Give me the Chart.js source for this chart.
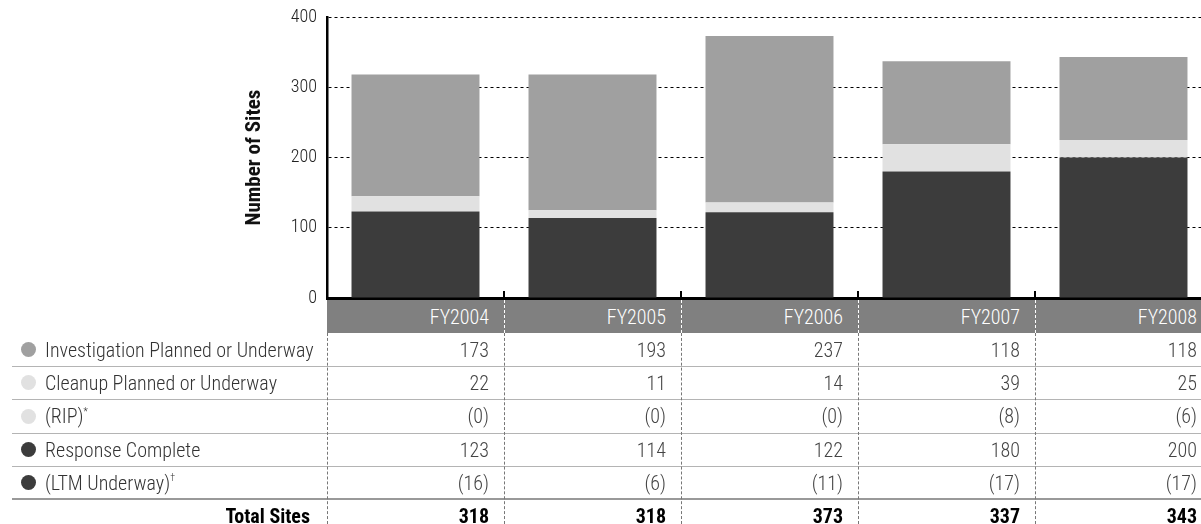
<!DOCTYPE html>
<html lang="en">
<head>
<meta charset="UTF-8">
<title>Number of Sites</title>
<script src="https://cdn.jsdelivr.net/npm/chart.js"></script>
<style>
  body { margin: 0; overflow: hidden; background: #fff; font-family: "Roboto Condensed", "Liberation Sans Narrow", sans-serif; }
  #wrap { position: relative; width: 1212px; height: 524px; }
  #sitesChart { position: absolute; left: 0; top: 0; }
  .cell { position: absolute; box-sizing: border-box; font-size: 20px; font-weight: 300; white-space: nowrap; display: flex; align-items: center; color: #444; }
  .num { justify-content: flex-end; padding-right: 15px; }
  .head { background: #808080; color: #fff; }
  .dot { display: inline-block; width: 15px; height: 15px; border-radius: 50%; margin: 0 9px 0 9px; }
  .hline { position: absolute; height: 0; border-top: 1px solid #b4b4b4; }
  .vline { position: absolute; width: 0; border-left: 1px dashed #777; }
  sup { font-size: 10px; position: relative; top: -5px; vertical-align: baseline; }
</style>
</head>
<body>
<div id="wrap">
  <canvas id="sitesChart" width="1212" height="524"></canvas>
</div>
<script>
const years = ['FY2004', 'FY2005', 'FY2006', 'FY2007', 'FY2008'];
const investigation = [173, 193, 237, 118, 118];
const cleanup = [22, 11, 14, 39, 25];
const rip = [0, 0, 0, 8, 6];
const response = [123, 114, 122, 180, 200];
const ltm = [16, 6, 11, 17, 17];
const yTicks = [0, 100, 200, 300, 400];

const DARK = '#3c3c3c';
const MID = '#a0a0a0';
const LIGHT = '#e1e1e1';

Chart.defaults.font.family = '"Roboto Condensed", "Liberation Sans Narrow", sans-serif';

// little upward ticks on the x axis between the fiscal years
const yearTicks = {
  id: 'yearTicks',
  afterDatasetsDraw(chart) {
    const { ctx, scales: { x }, chartArea } = chart;
    ctx.save();
    ctx.strokeStyle = '#000';
    ctx.lineWidth = 2;
    for (let i = 1; i < years.length; i++) {
      const px = Math.round((x.getPixelForValue(i - 1) + x.getPixelForValue(i)) / 2);
      ctx.beginPath();
      ctx.moveTo(px, chartArea.bottom - 7);
      ctx.lineTo(px, chartArea.bottom);
      ctx.stroke();
    }
    ctx.restore();
  }
};

const chart = new Chart(document.getElementById('sitesChart'), {
  type: 'bar',
  data: {
    labels: years,
    datasets: [
      { label: 'Response Complete', data: response, backgroundColor: DARK },
      { label: 'Cleanup Planned or Underway', data: cleanup, backgroundColor: LIGHT },
      { label: 'Investigation Planned or Underway', data: investigation, backgroundColor: MID }
    ]
  },
  options: {
    responsive: false,
    animation: false,
    layout: { padding: { left: 240, top: 17, right: 0, bottom: 218 } },
    datasets: { bar: { barPercentage: 0.723, categoryPercentage: 1 } },
    plugins: { legend: { display: false }, tooltip: { enabled: false } },
    scales: {
      x: {
        stacked: true,
        ticks: { display: false },
        grid: { display: false },
        border: { color: '#000', width: 3 }
      },
      y: {
        stacked: true,
        min: yTicks[0],
        max: yTicks[yTicks.length - 1],
        afterBuildTicks: s => { s.ticks = yTicks.map(v => ({ value: v })); },
        afterFit: s => { s.width = 87; s.paddingTop = 0; s.paddingBottom = 0; },
        ticks: { color: '#222', font: { size: 18, weight: 300 }, padding: 10 },
        grid: { color: '#000', lineWidth: 1, drawTicks: false },
        border: { color: '#000', width: 2.5, dash: [3, 3] },
        title: { display: true, text: 'Number of Sites', color: '#111', font: { size: 21, weight: 'bold' }, padding: { top: 2, bottom: 0 } }
      }
    }
  },
  plugins: [yearTicks]
});

// data table under the chart, columns aligned to the x scale
const wrap = document.getElementById('wrap');
const xs = chart.scales.x;
const step = xs.getPixelForValue(1) - xs.getPixelForValue(0);
const colLeft = i => xs.getPixelForValue(i) - step / 2;
const tableLeft = 12;
const rowTops = [300, 333, 366, 399, 433, 466, 499, 532];

function add(cls, style, html) {
  const d = document.createElement('div');
  d.className = cls;
  Object.assign(d.style, style);
  if (html !== undefined) d.innerHTML = html;
  wrap.appendChild(d);
  return d;
}

const paren = v => '(' + v + ')';
const totals = years.map((_, i) => response[i] + cleanup[i] + investigation[i]);
const rows = [
  { label: 'Investigation Planned or Underway', dot: MID, values: investigation.map(String) },
  { label: 'Cleanup Planned or Underway', dot: LIGHT, values: cleanup.map(String) },
  { label: '(RIP)<sup>*</sup>', dot: LIGHT, values: rip.map(paren) },
  { label: 'Response Complete', dot: DARK, values: response.map(String) },
  { label: '(LTM Underway)<sup>†</sup>', dot: DARK, values: ltm.map(paren) },
  { label: 'Total Sites', values: totals.map(String), bold: true }
];

// header band with year names
years.forEach((y, i) => {
  add('cell num head', { left: colLeft(i) + 'px', top: rowTops[0] + 'px', width: step + 'px', height: (rowTops[1] - rowTops[0]) + 'px' }, y);
});

rows.forEach((r, k) => {
  const top = rowTops[k + 1];
  const h = rowTops[k + 2] - top;
  const weight = r.bold ? 'bold' : '300';
  const color = r.bold ? '#000' : '#444';
  if (r.bold) {
    add('cell num', { left: tableLeft + 'px', top: top + 'px', width: (colLeft(0) - tableLeft) + 'px', height: h + 'px', fontWeight: weight, color: color, paddingRight: '17px' }, r.label);
  } else {
    add('cell', { left: tableLeft + 'px', top: top + 'px', width: (colLeft(0) - tableLeft) + 'px', height: h + 'px', color: '#333' },
      '<span class="dot" style="background:' + r.dot + '"></span>' + r.label);
  }
  r.values.forEach((v, i) => {
    add('cell num', { left: colLeft(i) + 'px', top: top + 'px', width: step + 'px', height: h + 'px', fontWeight: weight, color: color }, v);
  });
  // row separator
  if (k < rows.length - 1) {
    const last = k === rows.length - 2;
    add('hline', { left: tableLeft + 'px', top: (rowTops[k + 2] - (last ? 1 : 0)) + 'px', width: (1212 - tableLeft) + 'px', borderTopWidth: last ? '2px' : '1px', borderTopColor: last ? '#999' : '#b4b4b4' });
  }
});

// dashed column dividers
years.forEach((_, i) => {
  const x = Math.round(colLeft(i));
  add('vline', { left: x + 'px', top: rowTops[1] + 'px', height: (524 - rowTops[1]) + 'px' });
  if (i > 0) add('vline', { left: x + 'px', top: rowTops[0] + 'px', height: (rowTops[1] - rowTops[0]) + 'px', borderLeftColor: '#fff' });
});
</script>
</body>
</html>
